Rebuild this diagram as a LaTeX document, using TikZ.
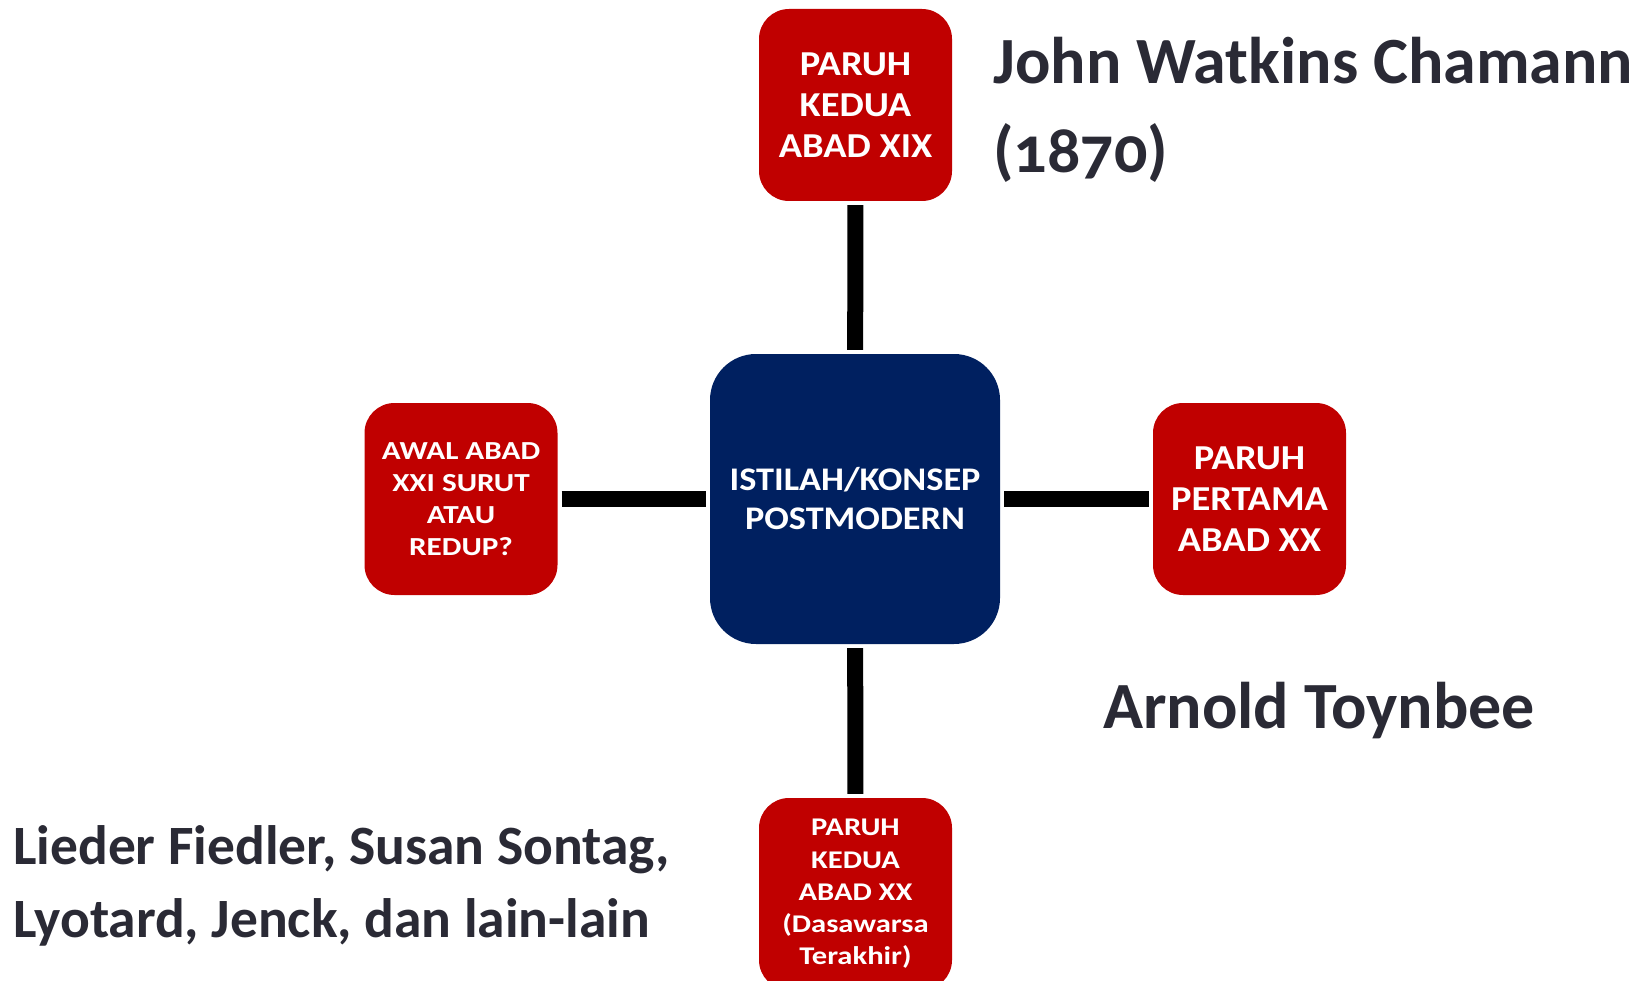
\documentclass[tikz,border=0pt]{standalone}
\usepackage{fontspec}
\setmainfont{Carlito}[Numbers=OldStyle]
\newfontfamily\boxfontA{Carlito}[FakeStretch=1.1]
\newfontfamily\boxfontB{Carlito}[FakeStretch=1.2]
\definecolor{boxred}{HTML}{C00000}
\definecolor{boxnavy}{HTML}{002060}
\definecolor{labelgray}{HTML}{2A2A35}
\tikzset{
  redbox/.style={fill=boxred, rounded corners=30pt, minimum width=193pt, minimum height=192pt,
    inner sep=0pt, align=center, text=white},
  navybox/.style={fill=boxnavy, rounded corners=46pt, minimum width=290pt, minimum height=290pt,
    inner sep=0pt, align=center, text=white, font=\boxfontA\bfseries\fontsize{33}{39}\selectfont},
  link/.style={line width=16pt, draw=black, shorten <=4pt, shorten >=4pt},
  biglabel/.style={text=labelgray, font=\bfseries, inner sep=0pt, align=left, anchor=base west}
}
\begin{document}
\begin{tikzpicture}[x=1pt,y=-1pt]
\useasboundingbox (0,0) rectangle (1648,981);
\clip (0,0) rectangle (1648,981);
\node[navybox] (center) at (855,499) {ISTILAH/KONSEP\\POSTMODERN};
\node[redbox, font=\boxfontA\bfseries\fontsize{35}{41}\selectfont] (top) at (855.5,105) {PARUH\\KEDUA\\ABAD XIX};
\node[redbox, font=\boxfontA\bfseries\fontsize{35}{41}\selectfont] (right) at (1249.5,499) {PARUH\\PERTAMA\\ABAD XX};
\node[redbox, font=\boxfontB\bfseries\fontsize{26}{32}\selectfont] (left) at (461,499) {AWAL ABAD\\XXI SURUT\\ATAU\\REDUP?};
\node[redbox, font=\boxfontB\bfseries\fontsize{25.5}{32.2}\selectfont] (bottom) at (855.5,894) {PARUH\\KEDUA\\ABAD XX\\(Dasawarsa\\Terakhir)};
\draw[link] (top) -- (center);
\draw[link] (center) -- (bottom);
\draw[link] (left) -- (center);
\draw[link] (center) -- (right);
\node[biglabel, font=\bfseries\fontsize{66}{89}\selectfont] (john) at (993,173) {John Watkins Chamann\\(1870)};
\node[biglabel, font=\bfseries\fontsize{66}{80}\selectfont] (arnold) at (1103,728) {Arnold Toynbee};
\node[biglabel, font=\bfseries\fontsize{55.5}{73}\selectfont] (lieder) at (13,937) {Lieder Fiedler, Susan Sontag,\\Lyotard, Jenck, dan lain-lain};
\end{tikzpicture}
\end{document}
